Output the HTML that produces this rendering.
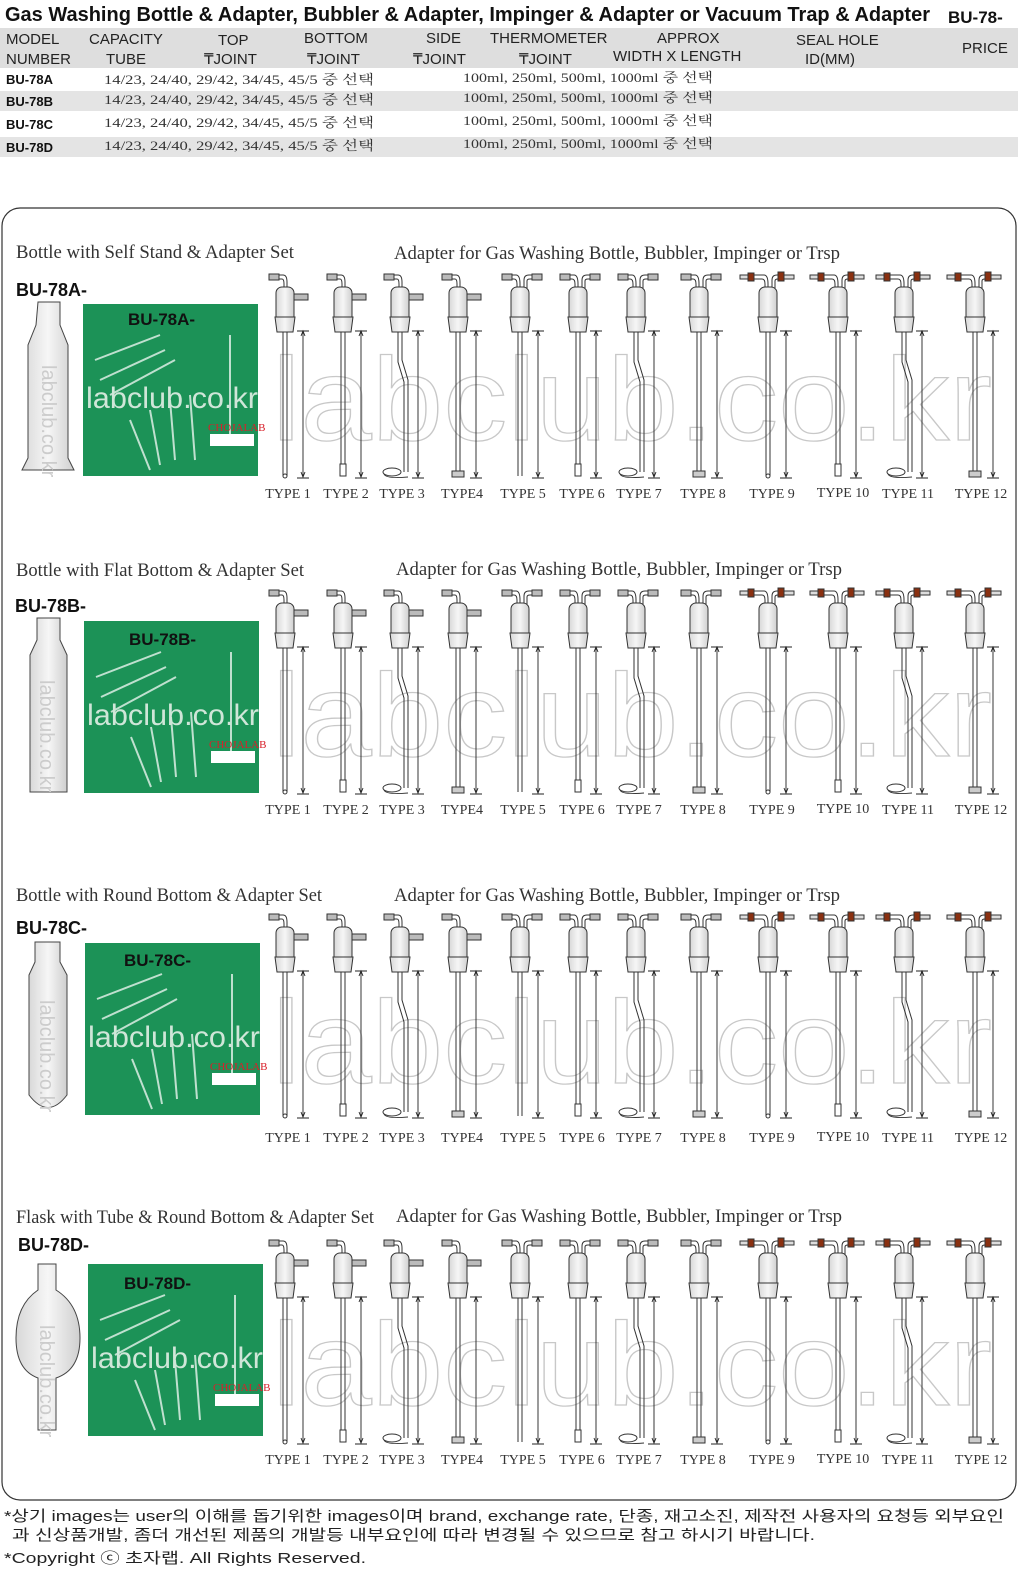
<!DOCTYPE html>
<html><head><meta charset="utf-8"><style>
html,body{margin:0;padding:0;background:#fff;}
body{width:1024px;height:1573px;position:relative;overflow:hidden;font-family:"Liberation Sans","Noto Sans CJK KR",sans-serif;}
svg{position:absolute;left:0;top:0;}
</style></head><body>
<svg width="1024" height="1573" viewBox="0 0 1024 1573" xmlns="http://www.w3.org/2000/svg">
<defs>
<linearGradient id="gl" x1="0" x2="1"><stop offset="0" stop-color="#d8d8d8"/><stop offset="0.5" stop-color="#f6f6f6"/><stop offset="1" stop-color="#cfcfcf"/></linearGradient>
<g id="head" stroke="#333" stroke-width="1" fill="none">
 <rect x="-16" y="2" width="10" height="6" fill="#bbb"/>
 <path d="M-6 3 H-2 Q2 3 2 10 V16 M-6 7 H-3 Q-1 7 -1 12 V16"/>
 <rect x="-9" y="15" width="18" height="36" rx="6" fill="url(#gl)"/>
 <rect x="9" y="22" width="14" height="6" fill="#bbb"/>
 <path d="M-10 45 H10 L8 60 H-8 Z" fill="url(#gl)"/>
</g>
<g id="dim" stroke="#222" stroke-width="0.9" fill="none">
 <path d="M12 59 H24 M18 60 V205 M12 206 H24"/>
 <path d="M16 64 L18 59 L20 64 M16 200 L18 205 L20 200" />
</g>
<g id="t1"><use href="#head"/><g stroke="#333" fill="none"><path d="M-2 60 V204 M2 60 V204"/><circle cx="0" cy="204" r="2"/></g><use href="#dim"/></g>
<g id="t2"><use href="#head"/><g stroke="#333" fill="none"><path d="M-2 60 V192 M2 60 V192"/><rect x="-3" y="192" width="6" height="12"/></g><use href="#dim"/></g>
<g id="t3"><use href="#head"/><g stroke="#333" fill="none"><path d="M-2 60 V90 L4 110 V200 M2 60 V88 L8 108 V200"/><ellipse cx="-8" cy="200" rx="9" ry="4"/><path d="M-16 202 Q-14 207 8 205"/></g><use href="#dim"/></g>
<g id="t4"><use href="#head"/><g stroke="#333" fill="none"><path d="M-2 60 V200 M2 60 V200"/><rect x="-6" y="199" width="12" height="6" fill="#ccc"/></g><use href="#dim"/></g>
<g id="h2" stroke="#333" stroke-width="1" fill="none">
 <rect x="-18" y="2" width="10" height="6" fill="#bbb"/>
 <path d="M-8 3 H-4 Q0 3 0 12 V16 M-8 7 H-6 Q-3 7 -3 12 V16 M4 16 V8 Q4 3 9 3 H12 M7 16 V9 Q7 7 10 7 H12"/>
 <rect x="12" y="2" width="10" height="6" fill="#bbb"/>
 <rect x="-9" y="15" width="18" height="36" rx="6" fill="url(#gl)"/>
 <path d="M-10 45 H10 L8 60 H-8 Z" fill="url(#gl)"/>
</g>
<g id="h3" stroke="#333" stroke-width="1" fill="none">
 <rect x="-28" y="3" width="8" height="4" fill="#ddd"/><rect x="-20" y="1" width="6" height="8" fill="#8a3010"/>
 <path d="M-14 3 H-4 Q0 3 0 12 V16 M-14 7 H-6 Q-3 7 -3 12 V16 M4 16 V8 Q4 3 9 3 H12 M7 16 V9 Q7 7 10 7 H12"/>
 <rect x="10" y="0" width="6" height="9" fill="#8a3010"/><rect x="16" y="3" width="10" height="4" fill="#ddd"/>
 <rect x="-9" y="15" width="18" height="36" rx="6" fill="url(#gl)"/>
 <path d="M-10 45 H10 L8 60 H-8 Z" fill="url(#gl)"/>
</g>
<g id="t5"><use href="#h2"/><g stroke="#333" fill="none"><path d="M-2 60 V204 M2 60 V204"/></g><use href="#dim"/></g>
<g id="t6"><use href="#h2"/><g stroke="#333" fill="none"><path d="M-2 60 V192 M2 60 V192"/><rect x="-3" y="192" width="6" height="12"/></g><use href="#dim"/></g>
<g id="t7"><use href="#h2"/><g stroke="#333" fill="none"><path d="M-2 60 V90 L4 110 V200 M2 60 V88 L8 108 V200"/><ellipse cx="-8" cy="200" rx="9" ry="4"/><path d="M-16 202 Q-14 207 8 205"/></g><use href="#dim"/></g>
<g id="t8"><use href="#h2"/><g stroke="#333" fill="none"><path d="M-2 60 V200 M2 60 V200"/><rect x="-6" y="199" width="12" height="6" fill="#ccc"/></g><use href="#dim"/></g>
<g id="t9"><use href="#h3"/><g stroke="#333" fill="none"><path d="M-2 60 V204 M2 60 V204"/><circle cx="0" cy="204" r="2"/></g><use href="#dim"/></g>
<g id="t10"><use href="#h3"/><g stroke="#333" fill="none"><path d="M-2 60 V192 M2 60 V192"/><rect x="-3" y="192" width="6" height="12"/></g><use href="#dim"/></g>
<g id="t11"><use href="#h3"/><g stroke="#333" fill="none"><path d="M-2 60 V90 L4 110 V200 M2 60 V88 L8 108 V200"/><ellipse cx="-8" cy="200" rx="9" ry="4"/><path d="M-16 202 Q-14 207 8 205"/></g><use href="#dim"/></g>
<g id="t12"><use href="#h3"/><g stroke="#333" fill="none"><path d="M-2 60 V200 M2 60 V200"/><rect x="-6" y="199" width="12" height="6" fill="#ccc"/></g><use href="#dim"/></g>
<g id="row">
 <use href="#t1" x="285"/><use href="#t2" x="343"/><use href="#t3" x="400"/><use href="#t4" x="458"/>
 <use href="#t5" x="520"/><use href="#t6" x="578"/><use href="#t7" x="636"/><use href="#t8" x="699"/>
 <use href="#t9" x="768"/><use href="#t10" x="838"/><use href="#t11" x="904"/><use href="#t12" x="975"/>
</g>
<g id="photo">
 <rect x="83" y="304" width="175" height="172" fill="#1c9257"/>
 <g stroke="#e8f4ee" stroke-width="2" opacity="0.8"><path d="M95 360 L160 335 M100 380 L165 350 M110 395 L175 360 M130 420 L150 470 M150 410 L160 465 M170 400 L175 460 M190 395 L195 460 M230 335 V440"/></g>
 <text x="86" y="408" font-family="Liberation Sans, sans-serif" font-size="30" fill="#cfe6d8" textLength="172" lengthAdjust="spacingAndGlyphs">labclub.co.kr</text>
 <text x="208" y="431" font-family="Liberation Serif, serif" font-size="11" fill="#d8202a">CHOJALAB</text>
 <rect x="210" y="434" width="44" height="12" fill="#fff"/>
</g>
</defs>

<g font-family="Liberation Sans, sans-serif">
<text x="5" y="21" font-size="20" font-weight="bold" fill="#111" textLength="925" lengthAdjust="spacingAndGlyphs">Gas Washing Bottle &amp; Adapter, Bubbler &amp; Adapter, Impinger &amp; Adapter or Vacuum Trap  &amp; Adapter</text>
<text x="948" y="23" font-size="17" font-weight="bold" fill="#111">BU-78-</text>
<rect x="0" y="28" width="1018" height="40" fill="#dedede"/>
<g font-size="15" fill="#222">
<text x="6" y="44">MODEL</text><text x="6" y="64">NUMBER</text>
<text x="89" y="44">CAPACITY</text><text x="106" y="64">TUBE</text>
<text x="218" y="45">TOP</text><text x="204" y="64">₸JOINT</text>
<text x="304" y="43">BOTTOM</text><text x="307" y="64">₸JOINT</text>
<text x="426" y="43">SIDE</text><text x="413" y="64">₸JOINT</text>
<text x="490" y="43">THERMOMETER</text><text x="519" y="64">₸JOINT</text>
<text x="657" y="43">APPROX</text><text x="613" y="61">WIDTH X LENGTH</text>
<text x="796" y="45">SEAL HOLE</text><text x="805" y="64">ID(MM)</text>
<text x="962" y="53">PRICE</text>
</g>
<rect x="0" y="91" width="1018" height="20" fill="#e4e4e4"/>
<rect x="0" y="137" width="1018" height="20" fill="#e4e4e4"/>
<g font-size="13" font-weight="bold" fill="#111">
<text x="6" y="84">BU-78A</text><text x="6" y="106">BU-78B</text><text x="6" y="129">BU-78C</text><text x="6" y="152">BU-78D</text>
</g>
<g font-size="13" fill="#333" font-family="Liberation Serif, Noto Serif CJK SC, serif">
<text x="104" y="84" textLength="270" lengthAdjust="spacingAndGlyphs">14/23, 24/40, 29/42, 34/45, 45/5 중 선택</text><text x="463" y="82" textLength="250" lengthAdjust="spacingAndGlyphs">100ml, 250ml, 500ml, 1000ml 중 선택</text>
<text x="104" y="104" textLength="270" lengthAdjust="spacingAndGlyphs">14/23, 24/40, 29/42, 34/45, 45/5 중 선택</text><text x="463" y="102" textLength="250" lengthAdjust="spacingAndGlyphs">100ml, 250ml, 500ml, 1000ml 중 선택</text>
<text x="104" y="127" textLength="270" lengthAdjust="spacingAndGlyphs">14/23, 24/40, 29/42, 34/45, 45/5 중 선택</text><text x="463" y="125" textLength="250" lengthAdjust="spacingAndGlyphs">100ml, 250ml, 500ml, 1000ml 중 선택</text>
<text x="104" y="150" textLength="270" lengthAdjust="spacingAndGlyphs">14/23, 24/40, 29/42, 34/45, 45/5 중 선택</text><text x="463" y="148" textLength="250" lengthAdjust="spacingAndGlyphs">100ml, 250ml, 500ml, 1000ml 중 선택</text>
</g>
</g>

<rect x="2" y="208" width="1014" height="1292" rx="18" fill="none" stroke="#333" stroke-width="1.2"/>

<g font-family="Liberation Serif, serif" fill="#333" font-size="19">
 <text x="16" y="258" textLength="278" lengthAdjust="spacingAndGlyphs">Bottle with Self Stand &amp; Adapter Set</text>
 <text x="16" y="576" textLength="288" lengthAdjust="spacingAndGlyphs">Bottle with Flat Bottom &amp; Adapter Set</text>
 <text x="16" y="901" textLength="306" lengthAdjust="spacingAndGlyphs">Bottle with Round Bottom &amp; Adapter Set</text>
 <text x="16" y="1223" textLength="358" lengthAdjust="spacingAndGlyphs">Flask with Tube &amp; Round Bottom &amp; Adapter Set</text>
 <text x="394" y="259" textLength="446" lengthAdjust="spacingAndGlyphs">Adapter for Gas Washing Bottle, Bubbler, Impinger or Trsp</text>
 <text x="396" y="575" textLength="446" lengthAdjust="spacingAndGlyphs">Adapter for Gas Washing Bottle, Bubbler, Impinger or Trsp</text>
 <text x="394" y="901" textLength="446" lengthAdjust="spacingAndGlyphs">Adapter for Gas Washing Bottle, Bubbler, Impinger or Trsp</text>
 <text x="396" y="1222" textLength="446" lengthAdjust="spacingAndGlyphs">Adapter for Gas Washing Bottle, Bubbler, Impinger or Trsp</text>
</g>

<g font-family="Liberation Sans, sans-serif" font-size="118" fill="#fff" stroke="#c8c8c8" stroke-width="1.3">
<text x="272" y="440" textLength="720" lengthAdjust="spacingAndGlyphs">labclub.co.kr</text>
<text x="272" y="756" textLength="720" lengthAdjust="spacingAndGlyphs">labclub.co.kr</text>
<text x="272" y="1083" textLength="720" lengthAdjust="spacingAndGlyphs">labclub.co.kr</text>
<text x="272" y="1405" textLength="720" lengthAdjust="spacingAndGlyphs">labclub.co.kr</text>
</g>

<use href="#row" y="272"/>
<use href="#row" y="588"/>
<use href="#row" y="912"/>
<use href="#row" y="1238"/>

<g font-family="Liberation Serif, serif" font-size="14" fill="#333" text-anchor="middle">
<g id="lab1">
<text x="288" y="498">TYPE 1</text><text x="346" y="498">TYPE 2</text><text x="402" y="498">TYPE 3</text><text x="462" y="498">TYPE4</text><text x="523" y="498">TYPE 5</text><text x="582" y="498">TYPE 6</text><text x="639" y="498">TYPE 7</text><text x="703" y="498">TYPE 8</text><text x="772" y="498">TYPE 9</text><text x="843" y="497">TYPE 10</text><text x="908" y="498">TYPE 11</text><text x="981" y="498">TYPE 12</text>
</g>
<use href="#lab1" y="316"/><use href="#lab1" y="644"/><use href="#lab1" y="966"/>
</g>

<use href="#photo"/>
<use href="#photo" x="1" y="317"/>
<use href="#photo" x="2" y="639"/>
<use href="#photo" x="5" y="960"/>
<g font-family="Liberation Sans, sans-serif" font-weight="bold" fill="#111">
 <text x="16" y="296" font-size="18">BU-78A-</text><text x="128" y="325" font-size="17">BU-78A-</text>
 <text x="15" y="612" font-size="18">BU-78B-</text><text x="129" y="645" font-size="17">BU-78B-</text>
 <text x="16" y="934" font-size="18">BU-78C-</text><text x="124" y="966" font-size="17">BU-78C-</text>
 <text x="18" y="1251" font-size="18">BU-78D-</text><text x="124" y="1289" font-size="17">BU-78D-</text>
</g>

<g stroke="#444" fill="url(#gl)">
 <path d="M38 302 H60 V325 L68 345 V458 L74 470 H22 L28 458 V345 L36 325 Z"/>
 <path d="M37 618 H60 V640 L67 655 V792 H30 V655 L37 640 Z"/>
 <path d="M35 942 H60 V962 L67 975 V1095 Q48 1120 29 1095 V975 L35 962 Z"/>
 <path d="M38 1264 H56 V1290 Q80 1305 80 1338 Q80 1370 56 1378 V1430 H38 V1378 Q16 1370 16 1338 Q16 1305 38 1290 Z"/>
</g>
<g font-family="Liberation Sans, sans-serif" font-size="20" fill="#ccc">
<text transform="translate(42,365) rotate(90)">labclub.co.kr</text>
<text transform="translate(40,680) rotate(90)">labclub.co.kr</text>
<text transform="translate(40,1000) rotate(90)">labclub.co.kr</text>
<text transform="translate(40,1325) rotate(90)">labclub.co.kr</text>
</g>

<g font-family="Liberation Sans, Noto Sans CJK KR, sans-serif" font-size="15" fill="#222">
<text x="4" y="1521" textLength="1000" lengthAdjust="spacingAndGlyphs">*상기 images는 user의 이해를 돕기위한 images이며 brand, exchange rate, 단종, 재고소진, 제작전 사용자의 요청등 외부요인</text>
<text x="12" y="1540" textLength="803" lengthAdjust="spacingAndGlyphs">과 신상품개발, 좀더 개선된 제품의 개발등 내부요인에 따라 변경될 수 있으므로 참고 하시기 바랍니다.</text>
<text x="4" y="1563" textLength="362" lengthAdjust="spacingAndGlyphs">*Copyright ⓒ 초자랩.     All Rights Reserved.</text>
</g>
</svg>
</body></html>
